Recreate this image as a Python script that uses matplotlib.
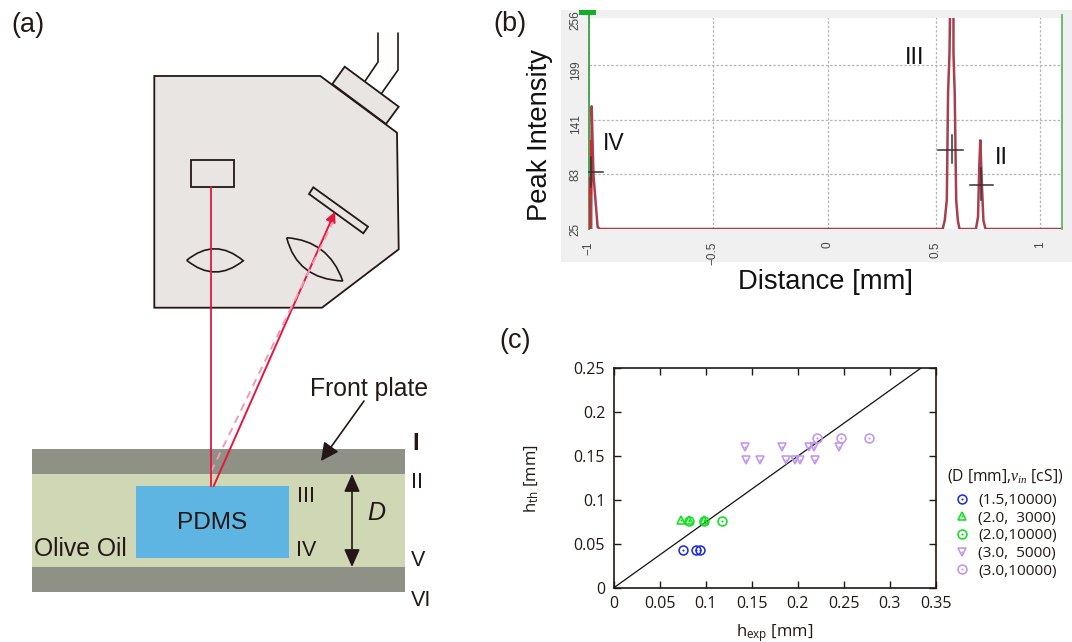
import numpy as np
import matplotlib
matplotlib.use("Agg")
import matplotlib.pyplot as plt
from matplotlib.lines import Line2D
from matplotlib.legend_handler import HandlerTuple
from matplotlib.patches import Polygon, Rectangle, FancyArrowPatch, PathPatch
from matplotlib.path import Path
from matplotlib.transforms import ScaledTranslation

W, H = 1072, 642
INK = "#231815"
RED = "#e5173f"

plt.rcParams["font.family"] = ["Liberation Sans", "DejaVu Sans"]
plt.rcParams["mathtext.fontset"] = "custom"
plt.rcParams["mathtext.rm"] = "Open Sans"
plt.rcParams["mathtext.it"] = "Liberation Serif:italic"

# panel (b) : line profile
b_knots = [-1, -0.5, 0, 0.5, 1, 1.1]
b_knot_px = [588.7, 712.6, 828, 936, 1040, 1061.5]
b_xticks = [-1, -0.5, 0, 0.5, 1]
b_xlabels = ["−1", "−0.5", "0", "0.5", "1"]
b_yticks = [25, 83, 141, 199, 256]
profile_x = [-0.99, -0.988, -0.981, -0.964, -0.954, 0.532, 0.542, 0.552, 0.558, 0.565, 0.567,
             0.575, 0.584, 0.584, 0.590, 0.597, 0.605, 0.613, 0.692, 0.702, 0.708, 0.713,
             0.721, 0.728, 0.738, 1.1]
profile_y = [25, 155, 83, 27, 25, 25, 34, 56, 169, 212, 247, 290, 247, 212, 169, 56, 34, 25,
             25, 38, 91, 119, 70, 34, 25, 25]

# panel (c) : scatter
blue_x = [0.0756, 0.0891, 0.0939]
blue_y = [0.0428, 0.0428, 0.0428]
green_tri_x = [0.073, 0.082, 0.098]
green_tri_y = [0.0769, 0.0769, 0.0769]
green_circ_x = [0.0823, 0.0978, 0.1177]
green_circ_y = [0.0758, 0.0758, 0.0758]
purple_tri_x = [0.1424, 0.1833, 0.212, 0.2172, 0.245, 0.144, 0.1595, 0.187, 0.1969, 0.202, 0.2183]
purple_tri_y = [0.161, 0.161, 0.161, 0.161, 0.161, 0.1462, 0.1462, 0.1462, 0.1462, 0.1462, 0.1462]
purple_circ_x = [0.2211, 0.2474, 0.2772]
purple_circ_y = [0.1712, 0.1712, 0.1712]
fit_x = [0, 0.35]
fit_y = [0, 0.2625]
legend_labels = ["(1.5,10000)", "(2.0,  3000)", "(2.0,10000)", "(3.0,  5000)", "(3.0,10000)"]


def px_axes(fig, left, top, right, bottom):
    return fig.add_axes([left / W, 1 - bottom / H, (right - left) / W, (bottom - top) / H])


fig = plt.figure(figsize=(W / 100, H / 100), dpi=100, facecolor="white")

# schematic layer, in picture pixels
bg = fig.add_axes([0, 0, 1, 1])
bg.set_xlim(0, W)
bg.set_ylim(H, 0)
bg.axis("off")

bg.add_patch(Rectangle((561, 10), W - 561, 252, fc="#f0f0f0", ec="none"))
fig.add_artist(Rectangle((579, 10), 17, 5, fc="#12b02a", ec="none", transform=bg.transData, zorder=10))

head = [(154.3, 76), (320.3, 76), (397, 132.7), (398.7, 249.3), (322, 307.7), (154.3, 307.7)]
bg.add_patch(Polygon(head, closed=True, fc="#e8e5e2", ec=INK, lw=1.3))
bg.add_patch(Polygon([(332.3, 84), (344.7, 66.7), (398.7, 106.7), (386, 124)], closed=True,
                     fc="#e8e5e2", ec=INK, lw=1.3))
bg.plot([365.3, 378, 378], [80.7, 62, 33.3], color=INK, lw=1.2)
bg.plot([382, 398, 398], [92.7, 70, 33.3], color=INK, lw=1.2)
bg.add_patch(Rectangle((190.7, 160), 43, 27.3, fc="none", ec=INK, lw=1.3))
bg.add_patch(Polygon([(313.3, 187.3), (368, 226.7), (363.3, 233.3), (309, 194)], closed=True,
                     fc="none", ec=INK, lw=1.3))

lens_codes = [Path.MOVETO, Path.CURVE3, Path.CURVE3, Path.CURVE3, Path.CURVE3]
lens_left = [(186.7, 260.3), (215, 237), (243.3, 260.7), (215, 283.5), (186.7, 260.3)]
lens_right = [(286.7, 237.7), (328.7, 240.7), (342.7, 281), (297, 279), (286.7, 237.7)]
for pts in (lens_left, lens_right):
    bg.add_patch(PathPatch(Path(pts, lens_codes), fc="none", ec=INK, lw=1.2))

# optical plates
bg.add_patch(Rectangle((32, 449), 373, 25, fc="#8f9186", ec="none"))
bg.add_patch(Rectangle((32, 474), 373, 93, fc="#cfd7b5", ec="none"))
bg.add_patch(Rectangle((32, 567), 373, 25, fc="#8f9186", ec="none"))
bg.add_patch(Rectangle((136, 486), 153, 72, fc="#5eb5e2", ec="none"))

bg.plot([211, 333], [471.7, 222], color="#f09ab8", lw=1.4, ls=(0, (4, 3)))
bg.plot([210.8, 210.8], [187, 486], color=RED, lw=1.3)
bg.add_patch(FancyArrowPatch((213.7, 486), (335, 211.7), arrowstyle="-|>", mutation_scale=15,
                             color=RED, lw=1.4, shrinkA=0, shrinkB=0))
bg.add_patch(FancyArrowPatch((364, 401), (321, 461), arrowstyle="-|>", mutation_scale=27,
                             color=INK, lw=1.2, shrinkA=0, shrinkB=0))
bg.add_patch(FancyArrowPatch((352, 474), (352, 567), arrowstyle="<|-|>,head_length=0.45,head_width=0.2",
                             mutation_scale=24, color=INK, lw=1.2, shrinkA=0, shrinkB=0))


def label(x, y, s, size=17, **kw):
    kw.setdefault("color", INK)
    fig.text(x, y, s, fontsize=size, ha="center", va="center", transform=bg.transData, **kw)


label(28, 25, "(a)", 19.5)
label(510, 24, "(b)", 19.5)
label(515, 341, "(c)", 19.5)
label(369, 389, "Front plate", 17.8)
label(212, 523, "PDMS", 17.6)
label(80, 549, "Olive Oil", 17.8)
label(306, 496, "III", 15.5)
label(306, 551, "IV", 15.5)
label(376, 513, "D", 18, style="italic")
label(416, 444, "I", 17, fontweight="bold")
label(417, 483, "II", 15.5)
label(418, 560, "V", 15.5)
label(421, 601, "VI", 15.5)
label(540, 135, "Peak Intensity", 19.7, rotation=90, color="#111111")
label(825, 282, "Distance [mm]", 19.7, color="#111111")
label(915, 58, "III", 17, color="#111111")
label(1001, 158, "II", 17, color="#111111")
label(614, 144, "IV", 16.5, color="#111111")

# panel (b)
axb = px_axes(fig, 588.7, 11, 1061.5, 229)
axb.set_xscale("function", functions=(lambda v: np.interp(v, b_knots, b_knot_px),
                                      lambda p: np.interp(p, b_knot_px, b_knots)))
axb.set_xlim(-1, 1.1)
axb.set_ylim(25, 256)
axb.axhspan(249, 256, color="#f0f0f0", lw=0, zorder=3)
for s in axb.spines.values():
    s.set_visible(False)
axb.grid(True, color="#b5b5b5", ls=(0, (2, 1.5)), lw=0.9)
axb.set_axisbelow(True)
axb.set_xticks(b_xticks, b_xlabels, rotation=90, fontsize=8.5, color="#444444")
axb.set_yticks(b_yticks, [str(v) for v in b_yticks], rotation=90, va="center", fontsize=8.5, color="#444444")
axb.tick_params(axis="x", length=0, pad=9)
axb.tick_params(axis="y", length=0, pad=5)
for t, off in zip(axb.get_yticklabels(), [0, 0, 5, 5, 9]):
    t.set_transform(t.get_transform() + ScaledTranslation(0, -off / 100, fig.dpi_scale_trans))
axb.axvline(-1, color="#3f9f45", lw=1.3, zorder=4, clip_on=False, ymax=0.98)
axb.axvline(1.1, color="#62b868", lw=1.3, zorder=4, clip_on=False, ymax=0.98)
axb.plot(profile_x, profile_y, color="#a83f4c", lw=1.8, zorder=2)
axb.plot([-0.997, -0.997], [25, 80], color="#e02030", lw=1.0, zorder=5)
axb.plot([-0.99, -0.99], [62, 118], color="#e02030", lw=1.6, zorder=3)
crosses = [(591.3, 172, 589, 603, 157, 187), (951.7, 150, 938, 963, 135, 163), (981.4, 185, 969.5, 992.6, 168, 200)]
for cx, cy, x0, x1, y0, y1 in crosses:
    fig.add_artist(Line2D([x0, x1], [cy, cy], color="#3a3030", lw=1.1, transform=bg.transData, zorder=10))
    fig.add_artist(Line2D([cx, cx], [y0, y1], color="#3a3030", lw=1.1, transform=bg.transData, zorder=10))

# panel (c)
axc = px_axes(fig, 613.5, 368.3, 936, 588)
axc.set_xlim(0, 0.35)
axc.set_ylim(0, 0.25)
axc.set_xticks([0, 0.05, 0.1, 0.15, 0.2, 0.25, 0.3, 0.35], ["0", "0.05", "0.1", "0.15", "0.2", "0.25", "0.3", "0.35"])
axc.set_yticks([0, 0.05, 0.1, 0.15, 0.2, 0.25], ["0", "0.05", "0.1", "0.15", "0.2", "0.25"])
axc.tick_params(direction="in", length=5, width=1, top=True, right=True, labelsize=11.5,
                labelcolor=INK, color=INK, pad=6)
for t in axc.get_xticklabels() + axc.get_yticklabels():
    t.set_family("Open Sans")
for s in axc.spines.values():
    s.set_linewidth(1.2)
    s.set_color(INK)
axc.plot(fit_x, fit_y, color="#111111", lw=0.9)

series = [
    (blue_x, blue_y, "o", "#1c2fe0"),
    (green_tri_x, green_tri_y, "^", "#10e020"),
    (green_circ_x, green_circ_y, "o", "#10e020"),
    (purple_tri_x, purple_tri_y, "v", "#c095f0"),
    (purple_circ_x, purple_circ_y, "o", "#c095f0"),
]
handles = []
for xs, ys, mk, col in series:
    op = axc.plot(xs, ys, ls="none", marker=mk, ms=6.4, mfc="none", mec=col, mew=1.15)[0]
    dot = axc.plot(xs, ys, ls="none", marker="o", ms=1.5, mfc=col, mec=col, mew=0)[0]
    handles.append((op, dot))

axc.set_xlabel(r"h$_{\mathrm{exp}}$ [mm]", fontsize=12, family="Open Sans", color=INK, labelpad=7)
axc.set_ylabel(r"h$_{\mathrm{th}}$ [mm]", fontsize=12, family="Open Sans", color=INK)
axc.yaxis.set_label_coords((540 - 613.5) / (936 - 613.5), 0.5)

leg = axc.legend(handles, legend_labels, handler_map={tuple: HandlerTuple(ndivide=1, pad=0)},
                 title=r"(D [mm],$\mathit{v}_{\mathit{in}}$ [cS])", frameon=False,
                 loc="upper left", bbox_to_anchor=(947 / W, 1 - 467 / H), bbox_transform=fig.transFigure,
                 alignment="left", borderpad=0, borderaxespad=0, handlelength=1.9, handletextpad=0.12,
                 labelspacing=0.17, prop={"family": "Open Sans", "size": 11.1},
                 title_fontproperties={"family": "Open Sans", "size": 11.3})
leg._legend_box.sep = 5.8
for t in leg.get_texts():
    t.set_color(INK)
leg.get_title().set_color(INK)

fig.savefig("out.png", dpi=100)
